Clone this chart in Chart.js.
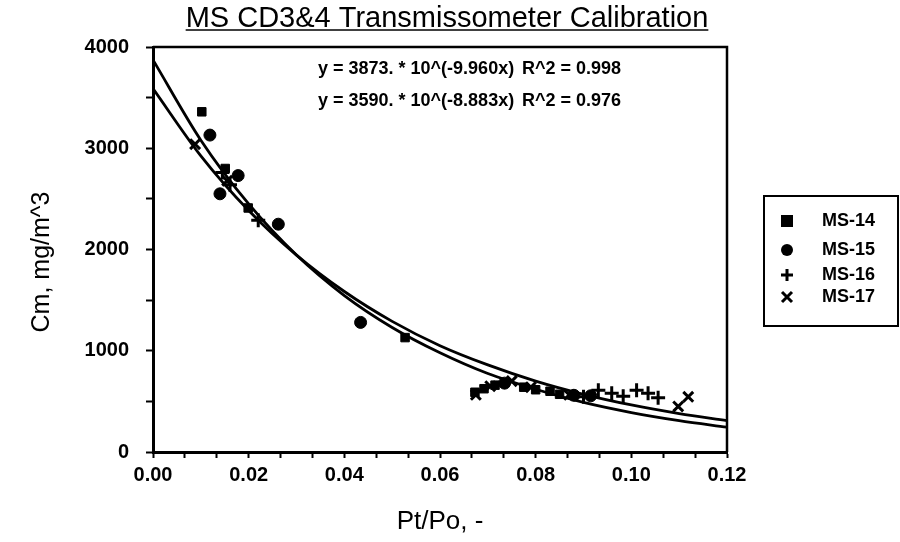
<!DOCTYPE html>
<html lang="en">
<head>
  <meta charset="UTF-8">
  <title>MS CD3&4 Transmissometer Calibration</title>
  <style>
    body { margin: 0; background: #fff; }
    .plot { width: 900px; height: 542px; }
  </style>
</head>
<body>
  <div class="plot">
    <canvas id="chart1"></canvas>
  </div>

  <script src="https://cdn.jsdelivr.net/npm/chart.js@4.4.0/dist/chart.umd.min.js"></script>
  <script>
    // --- data --- //
    const ms14X = [0.0102, 0.0151, 0.0199, 0.0527, 0.0673, 0.0692, 0.0715, 0.0775, 0.0800, 0.0830, 0.0850];
    const ms14Y = [3360, 2800, 2410, 1130, 590, 625, 660, 640, 615, 600, 570];

    const ms15X = [0.0119, 0.0140, 0.0178, 0.0262, 0.0434, 0.0735, 0.0880, 0.0915];
    const ms15Y = [3130, 2550, 2730, 2250, 1280, 680, 560, 555];

    const ms16X = [0.0145, 0.0161, 0.0220, 0.0900, 0.0931, 0.0959, 0.0983, 0.1011, 0.1035, 0.1056];
    const ms16Y = [2760, 2640, 2290, 545, 610, 580, 550, 610, 580, 535];

    const ms17X = [0.0088, 0.0155, 0.0675, 0.0705, 0.0750, 0.0790, 0.0870, 0.1098, 0.1119];
    const ms17Y = [3040, 2680, 565, 650, 700, 640, 565, 450, 545];

    // fit curves
    const fitX = [0, 0.01, 0.02, 0.03, 0.04, 0.05, 0.06, 0.07, 0.08, 0.09, 0.10, 0.11, 0.12];
    const fitA = [3873, 3080, 2450, 1945, 1545, 1230, 980, 775, 620, 490, 390, 310, 245];
    const fitB = [3590, 2925, 2385, 1945, 1585, 1290, 1050, 860, 700, 570, 465, 380, 310];

    const seriesNames = ["MS-14", "MS-15", "MS-16", "MS-17"];
    const xTickLabels = ["0.00", "0.02", "0.04", "0.06", "0.08", "0.10", "0.12"];
    const yTickLabels = ["0", "1000", "2000", "3000", "4000"];
    const equations = [
      ["y = 3873. * 10^(-9.960x)", "R^2 = 0.998"],
      ["y = 3590. * 10^(-8.883x)", "R^2 = 0.976"]
    ];

    const FONT = "'Liberation Sans', Arial, sans-serif";

    function toPoints(xs, ys) {
      return xs.map((x, i) => ({ x: x, y: ys[i] }));
    }

    function pointSet(label, xs, ys, style, radius, bw) {
      return {
        type: "scatter",
        label: label,
        data: toPoints(xs, ys),
        pointStyle: style,
        pointRadius: radius,
        borderWidth: bw,
        borderColor: "#000",
        backgroundColor: "#000",
      };
    }

    function fitSet(label, ys) {
      return {
        type: "line",
        label: label,
        data: toPoints(fitX, ys),
        borderColor: "#000",
        borderWidth: 2.8,
        pointRadius: 0,
        fill: false,
        cubicInterpolationMode: "monotone",
      };
    }

    // title, frame, y title, equations and legend
    const decorations = {
      id: "decorations",
      afterDraw(chart) {
        const ctx = chart.ctx;
        const area = chart.chartArea;
        ctx.save();
        ctx.fillStyle = "#000";
        ctx.strokeStyle = "#000";

        // frame top + right
        ctx.lineWidth = 2.5;
        ctx.beginPath();
        ctx.moveTo(area.left, area.top);
        ctx.lineTo(area.right, area.top);
        ctx.lineTo(area.right, area.bottom);
        ctx.stroke();

        // title
        ctx.font = "29px " + FONT;
        ctx.textAlign = "center";
        ctx.textBaseline = "alphabetic";
        const title = "MS CD3&4 Transmissometer Calibration";
        const tx = 447, ty = 27;
        ctx.fillText(title, tx, ty);
        const tw = ctx.measureText(title).width;
        ctx.lineWidth = 1.5;
        ctx.beginPath();
        ctx.moveTo(tx - tw / 2, ty + 3);
        ctx.lineTo(tx + tw / 2, ty + 3);
        ctx.stroke();

        // y axis title
        ctx.save();
        ctx.translate(42, 262);
        ctx.rotate(-Math.PI / 2);
        ctx.font = "25px " + FONT;
        ctx.textBaseline = "middle";
        ctx.fillText("Cm, mg/m^3", 0, 0);
        ctx.restore();

        // equations
        ctx.font = "bold 18px " + FONT;
        ctx.textAlign = "left";
        ctx.textBaseline = "middle";
        ctx.fillText(equations[0][0], 318, 69);
        ctx.fillText(equations[0][1], 522, 69);
        ctx.fillText(equations[1][0], 318, 101);
        ctx.fillText(equations[1][1], 522, 101);

        // legend box
        ctx.lineWidth = 2;
        ctx.strokeRect(764, 196, 134, 130);
        ctx.font = "bold 18px " + FONT;
        const rows = [221, 250, 275, 297];
        rows.forEach((y, i) => {
          const mx = 787;
          ctx.fillText(seriesNames[i], 822, y);
          ctx.lineWidth = 3;
          if (i === 0) {
            ctx.fillRect(mx - 6, y - 6, 12, 12);
          } else if (i === 1) {
            ctx.beginPath();
            ctx.arc(mx, y, 6, 0, Math.PI * 2);
            ctx.fill();
          } else if (i === 2) {
            ctx.beginPath();
            ctx.moveTo(mx - 6, y); ctx.lineTo(mx + 6, y);
            ctx.moveTo(mx, y - 6); ctx.lineTo(mx, y + 6);
            ctx.stroke();
          } else {
            ctx.beginPath();
            ctx.moveTo(mx - 5, y - 5); ctx.lineTo(mx + 5, y + 5);
            ctx.moveTo(mx + 5, y - 5); ctx.lineTo(mx - 5, y + 5);
            ctx.stroke();
          }
        });
        ctx.restore();
      }
    };

    new Chart(chart1, {
      data: {
        datasets: [
          fitSet("fit 1", fitA),
          fitSet("fit 2", fitB),
          pointSet(seriesNames[0], ms14X, ms14Y, "rect", 6, 1),
          pointSet(seriesNames[1], ms15X, ms15Y, "circle", 6, 1),
          pointSet(seriesNames[2], ms16X, ms16Y, "cross", 7, 3),
          pointSet(seriesNames[3], ms17X, ms17Y, "crossRot", 7, 3),
        ],
      },
      options: {
        responsive: true,
        maintainAspectRatio: false,
        animation: false,
        layout: {
          padding: { left: 0, right: 173, top: 47, bottom: 0 }
        },
        plugins: {
          legend: { display: false },
          title: { display: false },
          tooltip: { enabled: false },
        },
        scales: {
          x: {
            type: "linear",
            min: 0,
            max: 0.12,
            afterFit(scale) { scale.height = 90; },
            afterBuildTicks(scale) {
              const t = [];
              for (let k = 0; k <= 18; k++) t.push({ value: (0.02 / 3) * k });
              scale.ticks = t;
            },
            ticks: {
              color: "#000",
              autoSkip: false,
              maxRotation: 0,
              padding: 5,
              font: { family: FONT, size: 20, weight: "bold" },
              callback(value, index) {
                return index % 3 === 0 ? xTickLabels[index / 3] : "";
              },
            },
            grid: {
              drawOnChartArea: false,
              drawTicks: true,
              tickLength: 6,
              tickWidth: 2,
              tickColor: "#000",
            },
            border: { display: true, color: "#000", width: 3 },
            title: {
              display: true,
              text: "Pt/Po, -",
              color: "#000",
              font: { family: FONT, size: 26 },
              padding: { top: 5, bottom: 5 },
            },
          },
          y: {
            type: "linear",
            min: 0,
            max: 4000,
            afterFit(scale) { scale.width = 153; },
            afterBuildTicks(scale) {
              const t = [];
              for (let k = 0; k <= 8; k++) t.push({ value: 500 * k });
              scale.ticks = t;
            },
            ticks: {
              color: "#000",
              autoSkip: false,
              padding: 17,
              font: { family: FONT, size: 20, weight: "bold" },
              callback(value, index) {
                return index % 2 === 0 ? yTickLabels[index / 2] : "";
              },
            },
            grid: {
              drawOnChartArea: false,
              drawTicks: true,
              tickLength: 7,
              tickWidth: 2,
              tickColor: "#000",
            },
            border: { display: true, color: "#000", width: 3 },
          },
        },
      },
      plugins: [decorations],
    });
  </script>
</body>
</html>
